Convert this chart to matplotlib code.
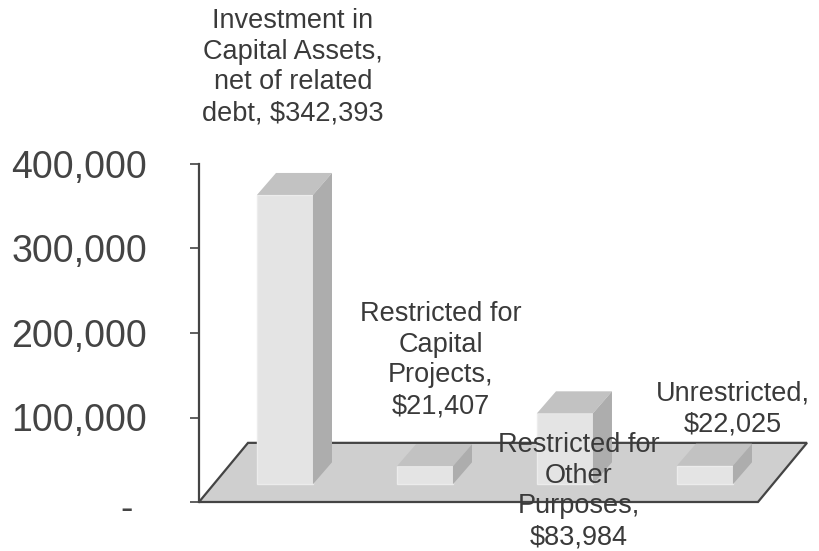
import matplotlib
matplotlib.use("Agg")
from matplotlib import pyplot as plt
from matplotlib.patches import Polygon
from matplotlib.transforms import ScaledTranslation

plt.rcParams['font.family'] = ['Liberation Sans', 'DejaVu Sans']

categories = ['Investment in\nCapital Assets,\nnet of related\ndebt, $342,393',
              'Restricted for\nCapital\nProjects,\n$21,407',
              'Restricted for\nOther\nPurposes,\n$83,984',
              'Unrestricted,\n$22,025']
values = [342393, 21407, 83984, 22025]
tick_values = [0, 100000, 200000, 300000, 400000]
tick_labels = ['-  ', '100,000', '200,000', '300,000', '400,000']

# fake 3D look: how far the back faces are shifted, in data units
depth_x = 0.136
depth_y = 26000
bar_base = 21000
bar_width = 0.4
floor_depth_x = 0.35
floor_depth_y = 70000

W, H = 820, 551
fig = plt.figure(figsize=(W / 100, H / 100), dpi=100)
ax = fig.add_axes([199 / W, 1 - 502 / H, (758 - 199) / W, 338 / H])
ax.set_xlim(-0.614, 3.379)
ax.set_ylim(0, 400000)

# floor
x0, x1 = ax.get_xlim()
floor = Polygon([(x0, 0), (x1, 0), (x1 + floor_depth_x, floor_depth_y), (x0 + floor_depth_x, floor_depth_y)],
                closed=True, facecolor='#cfcfcf', edgecolor='#444444', linewidth=1.6,
                clip_on=False, zorder=1)
ax.add_patch(floor)

xs = list(range(len(values)))
ax.bar(xs, values, width=bar_width, bottom=bar_base, color='#e4e4e4', edgecolor='#ececec',
       linewidth=1, zorder=3)

for x, v in zip(xs, values):
    left = x - bar_width / 2
    right = x + bar_width / 2
    top = bar_base + v
    ax.add_patch(Polygon([(left, top), (right, top), (right + depth_x, top + depth_y), (left + depth_x, top + depth_y)],
                         closed=True, facecolor='#c2c2c2', edgecolor='none', zorder=3))
    ax.add_patch(Polygon([(right, bar_base), (right + depth_x, bar_base + depth_y),
                          (right + depth_x, top + depth_y), (right, top)],
                         closed=True, facecolor='#adadad', edgecolor='none', zorder=3))

# axis
for s in ['top', 'right', 'bottom']:
    ax.spines[s].set_visible(False)
ax.patch.set_visible(False)
ax.spines['left'].set_color('#444444')
ax.spines['left'].set_linewidth(1.6)
ax.spines['left'].set_zorder(5)
ax.set_xticks([])
ax.set_yticks(tick_values)
ax.set_yticklabels(tick_labels, fontsize=27, color='#444444')
ax.tick_params(axis='y', length=6.5, width=1.2, color='#444444', pad=31)

# the zero dash sits a little lower and further right than the numbers
dash = ax.get_yticklabels()[0]
dash.set_transform(dash.get_transform() + ScaledTranslation(7 / 100, -4 / 100, fig.dpi_scale_trans))

# data labels, placed by hand around the bars
label_pos = [(293, 67), (441, 360), (579, 491), (733, 409)]
for text, (px, py) in zip(categories, label_pos):
    fig.text(px / W, 1 - py / H, text, ha='center', va='center', fontsize=19.5,
             color='#3a3a3a', linespacing=1.24, zorder=10)

fig.savefig('out.png', dpi=100)
